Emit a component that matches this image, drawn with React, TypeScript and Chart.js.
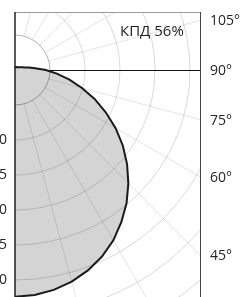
import React, { useEffect, useRef } from 'react';
import { Chart, registerables } from 'chart.js';

Chart.register(...registerables);

// Angles (deg, measured from nadir) and luminous intensity values
const angles = [0, 5, 10, 15, 20, 25, 30, 35, 40, 45, 50, 55, 60, 65, 70, 75, 80, 85, 90,
  95, 100, 105, 110, 115, 120, 125, 130, 135, 140, 145, 150, 155, 160, 165, 170, 175, 180];
const intensity = [162, 161.3, 159.5, 156.5, 152.3, 147, 140.5, 132.5, 124, 114.5, 104.5, 94, 83, 71.5, 60.5, 49.5, 39.5, 30, 22,
  14.5, 10, 7.2, 5.5, 4.5, 3.9, 3.4, 3.1, 2.8, 2.6, 2.5, 2.4, 2.3, 2.2, 2.2, 2.1, 2.1, 2.1];

const ringValues = [25, 50, 75, 100, 125, 150, 175, 200, 225, 250, 275, 300];
const spokeAngles = [15, 30, 45, 60, 75, 105, 120, 135, 150, 165];
const axisLabels = [50, 75, 100, 125, 150];
const angleLabels = [105, 90, 75, 60, 45];
const efficiencyLabel = 'КПД 56%';

// layout (in value units)
const X_MIN = -10.714;
const X_MAX = 161.43;
const Y_MIN = -162.14;
const Y_MAX = 50;
const FRAME_TOP = 41.4;
const FRAME_RIGHT = 132.1;

const FONT = '14px "Open Sans", sans-serif';

export default function App() {
  const ref = useRef<HTMLCanvasElement | null>(null);

  useEffect(() => {
    const canvas = ref.current;
    if (!canvas) return;

    const points = angles.map((a, i) => {
      const t = (a * Math.PI) / 180;
      return { x: intensity[i] * Math.sin(t), y: -intensity[i] * Math.cos(t) };
    });

    const backPlugin = {
      id: 'backLines',
      beforeDraw(chart: any) {
        const { ctx, scales } = chart;
        const xs = scales.x, ys = scales.y;
        const cx = xs.getPixelForValue(0), cy = ys.getPixelForValue(0);
        const right = xs.getPixelForValue(FRAME_RIGHT);
        ctx.save();
        ctx.strokeStyle = '#111';
        ctx.lineWidth = 1;
        ctx.beginPath();
        ctx.moveTo(cx, Math.round(cy) + 0.5);
        ctx.lineTo(right, Math.round(cy) + 0.5);
        ctx.stroke();
        ctx.restore();
      },
    };

    const gridPlugin = {
      id: 'polarGrid',
      beforeDatasetsDraw(chart: any) {
        const { ctx, scales } = chart;
        const xs = scales.x, ys = scales.y;
        const cx = xs.getPixelForValue(0), cy = ys.getPixelForValue(0);
        const unit = xs.getPixelForValue(1) - cx;
        const top = ys.getPixelForValue(FRAME_TOP);
        const right = xs.getPixelForValue(FRAME_RIGHT);
        ctx.save();
        ctx.beginPath();
        ctx.rect(cx, top, right - cx, chart.height - top + 10);
        ctx.clip();
        ctx.lineWidth = 1;
        ringValues.forEach((v, i) => {
          ctx.strokeStyle = i === 0 ? 'rgba(0,0,0,0.3)' : 'rgba(0,0,0,0.15)';
          ctx.beginPath();
          ctx.arc(cx, cy, v * unit, -Math.PI / 2, Math.PI / 2);
          ctx.stroke();
        });
        ctx.strokeStyle = 'rgba(0,0,0,0.11)';
        const r0 = ringValues[0] * unit;
        spokeAngles.forEach((a) => {
          const t = (a * Math.PI) / 180;
          const dx = Math.sin(t), dy = Math.cos(t);
          ctx.beginPath();
          ctx.moveTo(cx + dx * r0, cy + dy * r0);
          ctx.lineTo(cx + dx * 1000, cy + dy * 1000);
          ctx.stroke();
        });
        ctx.restore();
      },
      afterDatasetsDraw(chart: any) {
        const { ctx, scales } = chart;
        const xs = scales.x, ys = scales.y;
        const cx = xs.getPixelForValue(0), cy = ys.getPixelForValue(0);
        const unit = xs.getPixelForValue(1) - cx;
        const top = ys.getPixelForValue(FRAME_TOP);
        const right = xs.getPixelForValue(FRAME_RIGHT);
        ctx.save();
        // top frame
        ctx.strokeStyle = '#9a9a9a';
        ctx.lineWidth = 1;
        ctx.beginPath();
        ctx.moveTo(cx, Math.round(top) + 0.5);
        ctx.lineTo(right, Math.round(top) + 0.5);
        ctx.stroke();
        // right frame
        ctx.strokeStyle = '#444';
        ctx.beginPath();
        ctx.moveTo(Math.round(right) + 0.5, top);
        ctx.lineTo(Math.round(right) + 0.5, chart.height);
        ctx.stroke();
        // left frame (axis)
        ctx.strokeStyle = '#222';
        ctx.lineWidth = 1.5;
        ctx.beginPath();
        ctx.moveTo(cx, top);
        ctx.lineTo(cx, chart.height);
        ctx.stroke();

        ctx.font = FONT;
        ctx.fillStyle = '#262626';
        ctx.textBaseline = 'middle';
        // intensity labels on axis
        ctx.textAlign = 'right';
        axisLabels.forEach((v) => {
          ctx.fillText(String(v), cx - 8, cy + v * unit);
        });
        // angle labels
        ctx.textAlign = 'left';
        const d = right - cx;
        angleLabels.forEach((a) => {
          const t = (a * Math.PI) / 180;
          const yy = cy + d * (Math.cos(t) / Math.sin(t));
          ctx.fillText(a + '°', right + 10, yy + 1);
        });
        // efficiency
        ctx.font = '15px "Open Sans", sans-serif';
        ctx.fillStyle = '#1e1e1e';
        ctx.fillText(efficiencyLabel, 120, 32);
        ctx.restore();
      },
    };

    const chart = new Chart(canvas, {
      type: 'scatter',
      data: {
        datasets: [
          {
            data: points,
            showLine: true,
            pointRadius: 0,
            borderColor: '#1a1a1a',
            borderWidth: 2,
            backgroundColor: '#d4d4d4',
            fill: 'shape',
            tension: 0,
          } as any,
        ],
      },
      options: {
        animation: false,
        responsive: false,
        devicePixelRatio: 1,
        layout: { padding: 0 },
        scales: {
          x: { type: 'linear', min: X_MIN, max: X_MAX, display: false },
          y: { type: 'linear', min: Y_MIN, max: Y_MAX, display: false },
        },
        plugins: {
          legend: { display: false },
          tooltip: { enabled: false },
          filler: { drawTime: 'beforeDatasetsDraw' } as any,
        },
        events: [],
      },
      plugins: [backPlugin, gridPlugin],
    });

    return () => chart.destroy();
  }, []);

  return (
    <div style={{ position: 'absolute', left: 0, top: 0, width: 241, height: 297, background: '#fff' }}>
      <canvas ref={ref} width={241} height={297} style={{ display: 'block', width: 241, height: 297 }} />
    </div>
  );
}
